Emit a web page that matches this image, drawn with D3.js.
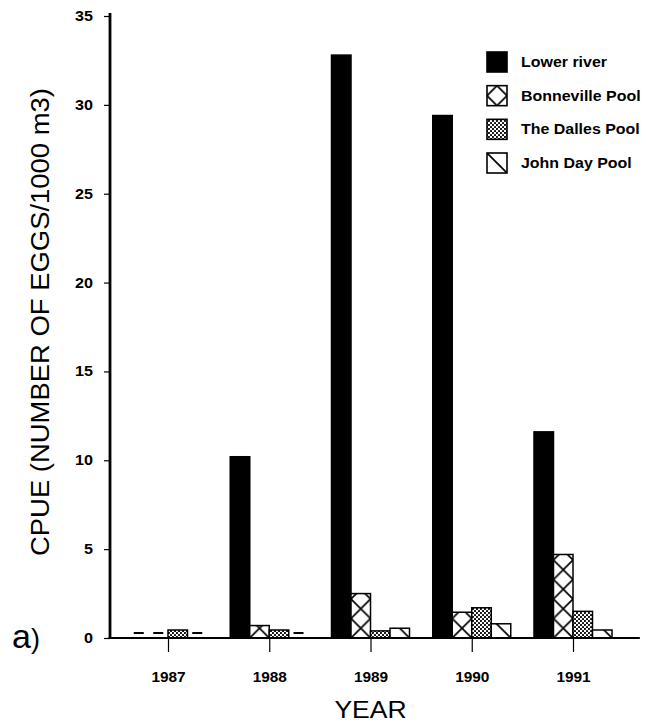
<!DOCTYPE html>
<html>
<head>
<meta charset="utf-8">
<script src="https://cdn.jsdelivr.net/npm/d3@7"></script>
<style>
  html, body { margin: 0; padding: 0; background: #fff; }
  svg { display: block; }
  text { font-family: "Liberation Sans", Arial, Helvetica, sans-serif; fill: #000; }
</style>
</head>
<body>
<svg id="chart" width="647" height="725"></svg>
<script>
// Egg catch per unit effort by river reach and year (null = not sampled)
const years = ["1987", "1988", "1989", "1990", "1991"];
const seriesNames = ["Lower river", "Bonneville Pool", "The Dalles Pool", "John Day Pool"];
const lowerRiver = [null, 10.2, 32.8, 29.4, 11.6];
const bonneville = [null, 0.7, 2.5, 1.45, 4.7];
const theDalles = [0.45, 0.45, 0.4, 1.7, 1.5];
const johnDay = [null, null, 0.55, 0.8, 0.45];
const yTicks = [0, 5, 10, 15, 20, 25, 30, 35];

const seriesValues = [lowerRiver, bonneville, theDalles, johnDay];
const fills = ["solid", "cross", "dots", "slash"];

const svg = d3.select("#chart");
svg.append("rect").attr("width", 647).attr("height", 725).attr("fill", "#fff");
const defs = svg.append("defs");

const y = d3.scaleLinear().domain([0, 35]).range([638, 16]);
const x = d3.scalePoint().domain(years).range([168, 573]);
const xs = d3.scaleBand().domain(seriesNames).range([-39, 39]);
const bw = xs.bandwidth();
const axisX = 110;

// widen glyphs slightly for the heavy grotesque look of the labels
function stretch(sel, k) {
  sel.each(function () {
    const w = this.getComputedTextLength();
    this.setAttribute("textLength", w * k);
    this.setAttribute("lengthAdjust", "spacingAndGlyphs");
  });
}

// fine stipple fill (staggered dots)
const dots = defs.append("pattern").attr("id", "dots")
  .attr("patternUnits", "userSpaceOnUse").attr("width", 4).attr("height", 4);
dots.append("rect").attr("width", 4).attr("height", 4).attr("fill", "#fff");
dots.append("circle").attr("cx", 1).attr("cy", 1).attr("r", 1.05).attr("fill", "#000");
dots.append("circle").attr("cx", 3).attr("cy", 3).attr("r", 1.05).attr("fill", "#000");

// hatch patterns anchored to a given origin
let patId = 0;
function hatch(kind, ox, oy, w) {
  const id = "pat" + (patId++);
  const p = defs.append("pattern").attr("id", id)
    .attr("patternUnits", "userSpaceOnUse")
    .attr("x", ox).attr("y", oy).attr("width", w).attr("height", w);
  p.append("rect").attr("width", w).attr("height", w).attr("fill", "#fff");
  const d = kind === "cross"
    ? `M0,0L${w},${w}M${w},0L0,${w}M-2,-2L2,2M${w - 2},${w + 2}L${w + 2},${w - 2}`
    : `M0,0L${w},${w}M-2,${w - 2}L2,${w + 2}M${w - 2},-2L${w + 2},2`;
  p.append("path").attr("d", d).attr("stroke", "#000").attr("stroke-width", 1.7).attr("fill", "none");
  return `url(#${id})`;
}

function fillFor(kind, ox, oy, w) {
  if (kind === "solid") return "#000";
  if (kind === "dots") return "url(#dots)";
  return hatch(kind, ox, oy, w);
}

// bars
const barData = [];
seriesValues.forEach((vals, si) => {
  vals.forEach((v, yi) => barData.push({ year: years[yi], series: seriesNames[si], kind: fills[si], value: v }));
});

const plot = svg.append("g");
plot.selectAll("rect.bar")
  .data(barData.filter(d => d.value !== null))
  .join("rect")
  .attr("class", "bar")
  .attr("x", d => x(d.year) + xs(d.series))
  .attr("y", d => y(d.value))
  .attr("width", bw)
  .attr("height", d => y(0) - y(d.value))
  .attr("fill", d => fillFor(d.kind, x(d.year) + xs(d.series), y(0), bw))
  .attr("stroke", "#000")
  .attr("stroke-width", 1.5);

// dashes where a reach was not sampled
plot.selectAll("line.missing")
  .data(barData.filter(d => d.value === null))
  .join("line")
  .attr("class", "missing")
  .attr("x1", d => x(d.year) + xs(d.series) + bw / 2 - 5)
  .attr("x2", d => x(d.year) + xs(d.series) + bw / 2 + 5)
  .attr("y1", y(0) - 5)
  .attr("y2", y(0) - 5)
  .attr("stroke", "#000")
  .attr("stroke-width", 2);

// y axis
const yAxis = svg.append("g").attr("transform", `translate(${axisX},0)`)
  .call(d3.axisLeft(y).tickValues(yTicks).tickSize(6).tickPadding(11).tickFormat(d3.format("d")));
yAxis.select(".domain").remove();
yAxis.selectAll(".tick line").attr("stroke-width", 1.2);
yAxis.selectAll(".tick text")
  .attr("font-size", 14).attr("font-weight", "bold")
  .attr("font-family", "'Liberation Sans', Arial, sans-serif")
  .call(stretch, 1.15);
svg.append("line")
  .attr("x1", axisX).attr("x2", axisX)
  .attr("y1", y(0) + 1).attr("y2", y(35) - 3)
  .attr("stroke", "#000").attr("stroke-width", 2.8);

// x axis
const xAxis = svg.append("g").attr("transform", `translate(0,${y(0)})`)
  .call(d3.axisBottom(x).tickSize(14).tickPadding(20));
xAxis.select(".domain").remove();
xAxis.selectAll(".tick line").attr("stroke-width", 1.2);
xAxis.selectAll(".tick text")
  .attr("font-size", 14).attr("font-weight", "bold")
  .attr("font-family", "'Liberation Sans', Arial, sans-serif")
  .call(stretch, 1.1);
svg.append("line")
  .attr("x1", axisX - 1.4).attr("x2", x(years[years.length - 1]) + x.step() * 0.66)
  .attr("y1", y(0)).attr("y2", y(0))
  .attr("stroke", "#000").attr("stroke-width", 2.2);

// axis titles
svg.append("text")
  .attr("transform", `translate(49,${(y(0) + y(35)) / 2 - 5}) rotate(-90)`)
  .attr("text-anchor", "middle")
  .attr("font-size", 26)
  .attr("textLength", 468).attr("lengthAdjust", "spacingAndGlyphs")
  .text("CPUE (NUMBER OF EGGS/1000 m3)");

svg.append("text")
  .attr("x", x(years[2])).attr("y", 718)
  .attr("text-anchor", "middle")
  .attr("font-size", 23)
  .text("YEAR")
  .call(stretch, 1.15);

// panel label
const panel = svg.append("text").attr("x", 12).attr("y", 648);
panel.append("tspan").attr("font-size", 34).text("a");
panel.append("tspan").attr("font-size", 27).text(")");

// legend
const legendY = d3.scalePoint().domain(seriesNames).range([62, 163]);
const lsz = 20, lx = 487;
const legend = svg.append("g").selectAll("g").data(seriesNames).join("g");
legend.append("rect")
  .attr("x", lx)
  .attr("y", d => legendY(d) - lsz / 2)
  .attr("width", lsz).attr("height", lsz)
  .attr("fill", (d, i) => fills[i] === "cross"
    ? fillFor("cross", lx + lsz / 2, legendY(d) - lsz / 2, lsz)
    : fillFor(fills[i], lx, legendY(d) - lsz / 2, lsz))
  .attr("stroke", "#000").attr("stroke-width", 1.6);
legend.append("text")
  .attr("x", 521)
  .attr("y", d => legendY(d) + 5)
  .attr("font-size", 14.5).attr("font-weight", "bold")
  .text(d => d)
  .call(stretch, 1.1);
</script>
</body>
</html>
